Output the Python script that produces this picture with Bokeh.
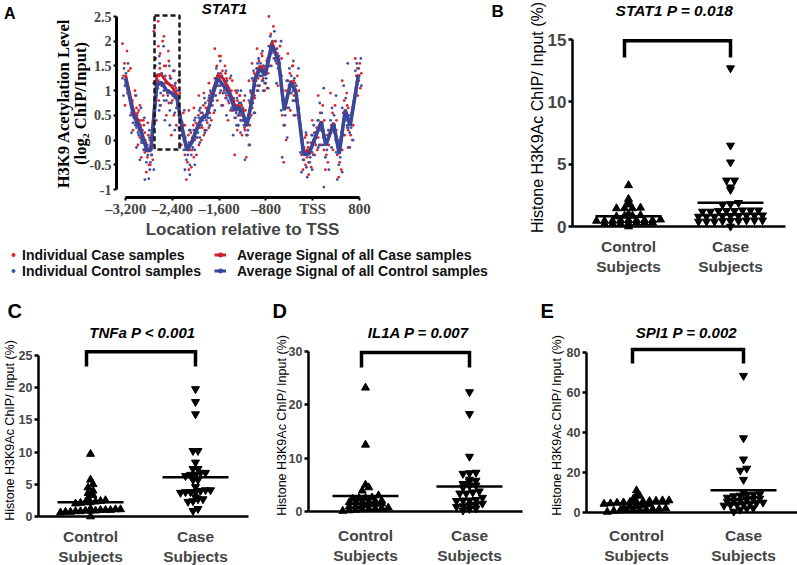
import math
from bokeh.plotting import figure
from bokeh.layouts import column, row
from bokeh.models import Range1d, FixedTicker, Label, Legend, LegendItem
from bokeh.embed import file_html
from bokeh.resources import INLINE

SANS = "Liberation Sans"
SERIF = "Liberation Serif"
RED = "#d8262c"
BLUE = "#3b50a6"
RED_LINE = "#cc1e2c"
BLUE_LINE = "#34489e"
NAN = float("nan")

# ---------------- Panel A data (STAT1 promoter tiling) ----------------
a_positions = [-3200, -3063, -2978, -2921, -2835, -2767, -2664, -2590, -2493, -2408,
               -2322, -2237, -2151, -2066, -1980, -1895, -1810, -1724, -1622, -1525,
               -1439, -1325, -1268, -1200, -1125, -1040, -985, -900, -812, -698,
               -584, -487, -373, -287, -157, -60, 43, 146, 225, 356,
               453, 556, 641, 780]
a_control_avg = [1.25, 0.50, 0.30, 0.12, -0.21, -0.21, 1.10, 1.17, 1.00, 0.95,
                 0.85, 0.26, -0.21, -0.05, 0.22, 0.45, 0.50, 0.85, 1.25, 1.10,
                 0.97, 0.60, 0.66, 0.55, 0.28, 0.80, 1.24, 1.44, 1.31, 1.91,
                 1.61, 0.60, 1.17, 0.97, -0.28, -0.28, 0.06, 0.36, -0.11, 0.33,
                 -0.28, 0.60, 0.29, 1.30]
a_case_avg = [1.32, 0.58, 0.38, 0.15, -0.18, -0.20, 1.31, 1.33, 1.17, 1.08,
              0.92, 0.30, -0.20, -0.02, 0.25, 0.45, 0.52, 0.90, 1.32, 1.24,
              1.04, 0.68, 0.70, 0.58, 0.30, 0.82, 1.26, 1.50, 1.35, 1.98,
              1.63, 0.62, 1.20, 1.00, -0.25, -0.22, 0.03, 0.38, -0.10, 0.35,
              -0.25, 0.62, 0.30, 1.33]
a_case_dots = [
    [1.95, 1.8, 1.55, 1.4, 1.3, 1.15, 0.95, 0.7],
    [1.45, 1.0, 0.8, 0.65, 0.55, 0.45, 0.35, 0.2],
    [0.9, 0.7, 0.55, 0.4, 0.3, 0.2, 0.05, -0.1],
    [0.6, 0.4, 0.25, 0.15, 0.05, -0.05, -0.2, -0.35],
    [0.3, 0.1, -0.05, -0.15, -0.25, -0.35, -0.5, -0.65],
    [0.35, 0.15, 0.0, -0.1, -0.2, -0.3, -0.4, -0.5],
    [2.2, 1.9, 1.65, 1.45, 1.3, 1.1, 0.8, 0.4],
    [2.4, 2.0, 1.75, 1.5, 1.3, 1.1, 0.9, 0.7],
    [2.1, 1.8, 1.5, 1.3, 1.15, 0.95, 0.75, 0.5],
    [1.6, 1.4, 1.25, 1.1, 0.95, 0.8, 0.5, 0.1],
    [1.4, 1.2, 1.05, 0.95, 0.85, 0.7, 0.5, 0.3],
    [0.7, 0.55, 0.4, 0.3, 0.2, 0.1, 0.0, -0.1],
    [0.3, 0.1, -0.05, -0.2, -0.3, -0.45, -0.6, -0.8],
    [0.6, 0.3, 0.15, 0.0, -0.1, -0.2, -0.35, -0.55],
    [0.65, 0.5, 0.35, 0.25, 0.15, 0.05, -0.1, -0.3],
    [0.9, 0.7, 0.55, 0.45, 0.35, 0.25, 0.1, 0.0],
    [0.95, 0.8, 0.65, 0.55, 0.45, 0.35, 0.25, 0.2],
    [1.15, 1.05, 0.95, 0.9, 0.8, 0.7, 0.55, 0.4],
    [1.85, 1.7, 1.5, 1.35, 1.25, 1.1, 0.95, 0.8],
    [1.7, 1.5, 1.4, 1.25, 1.15, 1.0, 0.85, 0.7],
    [1.35, 1.25, 1.1, 1.0, 0.9, 0.75, 0.6, 0.4],
    [1.2, 0.95, 0.8, 0.7, 0.6, 0.45, 0.2, -0.3],
    [1.0, 0.9, 0.8, 0.7, 0.6, 0.5, 0.4, 0.3],
    [0.9, 0.8, 0.7, 0.6, 0.5, 0.4, 0.25, 0.1],
    [0.6, 0.5, 0.4, 0.3, 0.2, 0.1, -0.1, -0.35],
    [1.2, 1.05, 0.95, 0.85, 0.75, 0.65, 0.55, 0.5],
    [1.55, 1.45, 1.35, 1.25, 1.2, 1.1, 1.0, 0.9],
    [1.85, 1.75, 1.6, 1.5, 1.4, 1.3, 1.2, 1.1],
    [1.7, 1.6, 1.45, 1.35, 1.25, 1.15, 1.05, 1.0],
    [2.5, 2.3, 2.15, 2.0, 1.9, 1.8, 1.65, 1.5],
    [2.0, 1.9, 1.75, 1.65, 1.55, 1.45, 1.3, 1.1],
    [1.3, 1.0, 0.8, 0.65, 0.5, 0.3, 0.0, -0.45],
    [1.75, 1.5, 1.35, 1.2, 1.1, 0.95, 0.8, 0.6],
    [1.5, 1.3, 1.15, 1.0, 0.9, 0.8, 0.65, 0.5],
    [0.2, 0.05, -0.1, -0.2, -0.3, -0.4, -0.5, -0.6],
    [0.1, -0.05, -0.15, -0.25, -0.35, -0.45, -0.55, -0.7],
    [0.4, 0.25, 0.15, 0.05, 0.0, -0.1, -0.2, -0.3],
    [0.9, 0.7, 0.55, 0.4, 0.3, 0.2, 0.05, -0.1],
    [0.2, 0.1, 0.0, -0.1, -0.2, -0.3, -0.45, -0.6],
    [0.95, 0.7, 0.55, 0.4, 0.3, 0.15, 0.0, -0.2],
    [0.2, 0.05, -0.1, -0.2, -0.3, -0.45, -0.6, -0.75],
    [1.2, 0.95, 0.8, 0.65, 0.55, 0.4, 0.25, 0.1],
    [0.7, 0.55, 0.4, 0.3, 0.2, 0.1, 0.0, -0.15],
    [1.65, 1.55, 1.45, 1.35, 1.3, 1.2, 1.05, 0.9],
]
a_control_dots = [
    [1.55, 1.45, 1.35, 1.25, 1.2, 1.1, 1.0, 0.9],
    [0.9, 0.75, 0.6, 0.5, 0.45, 0.35, 0.25, 0.15],
    [0.65, 0.5, 0.4, 0.3, 0.25, 0.15, 0.0, -0.15],
    [0.45, 0.3, 0.2, 0.1, 0.05, -0.05, -0.2, -0.4],
    [0.2, 0.0, -0.1, -0.2, -0.3, -0.45, -0.6, -0.8],
    [0.25, 0.05, -0.1, -0.2, -0.3, -0.45, -0.6, -0.78],
    [1.7, 1.5, 1.3, 1.15, 1.05, 0.9, 0.7, 0.5],
    [1.9, 1.55, 1.35, 1.2, 1.1, 0.95, 0.8, 0.6],
    [1.5, 1.3, 1.15, 1.0, 0.9, 0.8, 0.6, 0.4],
    [1.4, 1.25, 1.1, 1.0, 0.9, 0.75, 0.55, 0.3],
    [1.3, 1.15, 1.0, 0.9, 0.8, 0.65, 0.45, 0.2],
    [0.6, 0.45, 0.35, 0.25, 0.2, 0.1, 0.0, -0.15],
    [0.2, 0.05, -0.1, -0.2, -0.3, -0.4, -0.5, -0.6],
    [0.4, 0.2, 0.05, -0.05, -0.15, -0.3, -0.5, -0.7],
    [0.6, 0.45, 0.3, 0.2, 0.15, 0.05, -0.05, -0.2],
    [0.85, 0.65, 0.55, 0.45, 0.4, 0.3, 0.15, 0.05],
    [0.9, 0.75, 0.6, 0.5, 0.45, 0.4, 0.3, 0.2],
    [1.1, 1.0, 0.95, 0.85, 0.8, 0.7, 0.6, 0.45],
    [1.6, 1.45, 1.35, 1.25, 1.2, 1.1, 1.0, 0.9],
    [1.4, 1.3, 1.2, 1.1, 1.05, 0.95, 0.85, 0.7],
    [1.3, 1.2, 1.05, 0.95, 0.9, 0.8, 0.65, 0.5],
    [1.0, 0.85, 0.7, 0.6, 0.55, 0.45, 0.3, 0.1],
    [1.0, 0.85, 0.75, 0.65, 0.6, 0.5, 0.4, 0.3],
    [0.9, 0.75, 0.65, 0.55, 0.5, 0.4, 0.3, 0.15],
    [0.6, 0.45, 0.35, 0.3, 0.2, 0.1, -0.1, -0.4],
    [1.15, 1.0, 0.9, 0.8, 0.75, 0.65, 0.55, 0.45],
    [1.55, 1.4, 1.3, 1.25, 1.2, 1.1, 1.0, 0.9],
    [1.8, 1.65, 1.55, 1.45, 1.4, 1.3, 1.2, 1.1],
    [1.65, 1.5, 1.4, 1.3, 1.25, 1.15, 1.05, 1.0],
    [2.2, 2.1, 2.0, 1.9, 1.85, 1.75, 1.65, 1.5],
    [2.0, 1.85, 1.7, 1.6, 1.55, 1.45, 1.3, 1.15],
    [1.2, 0.95, 0.75, 0.6, 0.5, 0.3, 0.05, -0.35],
    [1.6, 1.45, 1.3, 1.2, 1.1, 0.95, 0.8, 0.65],
    [1.45, 1.25, 1.1, 1.0, 0.9, 0.8, 0.65, 0.5],
    [0.15, 0.0, -0.15, -0.25, -0.3, -0.4, -0.55, -0.65],
    [0.1, -0.05, -0.2, -0.3, -0.35, -0.45, -0.6, -0.75],
    [0.4, 0.3, 0.15, 0.1, 0.05, -0.05, -0.15, -0.3],
    [1.05, 0.75, 0.55, 0.4, 0.35, 0.2, 0.05, -0.1],
    [0.2, 0.05, -0.05, -0.1, -0.2, -0.35, -0.6, -0.95],
    [0.9, 0.65, 0.5, 0.4, 0.3, 0.2, 0.05, -0.15],
    [0.15, 0.0, -0.15, -0.25, -0.35, -0.5, -0.65, -0.8],
    [1.55, 1.1, 0.85, 0.65, 0.55, 0.4, 0.25, 0.1],
    [0.65, 0.5, 0.4, 0.3, 0.25, 0.15, 0.0, -0.15],
    [1.65, 1.55, 1.45, 1.4, 1.3, 1.2, 1.1, 0.95],
]
a_box_x = [-2704, -2277]
a_box_y = [-0.19, 2.52]
a_xticks = [-3200, -2400, -1600, -800, 0, 800]
a_xtick_labels = ["\u20133,200", "\u20132,400", "\u20131,600", "\u2013800", "TSS", "800"]
a_yticks = [-1, -0.5, 0, 0.5, 1, 1.5, 2, 2.5]
a_ytick_labels = ["-1", "-0.5", "0", "0.5", "1", "1.5", "2", "2.5"]

# ---------------- Panels B-E data ----------------
groups = ["Control\nSubjects", "Case\nSubjects"]

stat1_control = [3.3, 2.2, 2.0, 1.75, 1.5, 1.45, 1.45, 1.45, 1.0, 0.9, 0.85, 0.85, 0.8, 0.55, 0.5,
                 0.5, 0.5, 0.5, 0.5, 0.45, 0.45, 0.45, 0.3, 0.3, 0.3, 0.25, 0.25, 0.2, 0.2, 0.0]
stat1_case = [12.7, 6.5, 5.15, 3.7, 3.7, 3.15, 2.95, 1.9, 1.8, 1.75,
              1.3, 1.3, 1.3, 1.25, 1.25, 1.25, 1.2, 1.2,
              0.9, 0.9, 0.9, 0.85, 0.85, 0.85, 0.8, 0.8, 0.8,
              0.5, 0.5, 0.5, 0.45, 0.45, 0.45, 0.4, 0.4, 0.4, 0.0]
stat1_means = [0.83, 1.9]
stat1_bracket = [13.55, 14.9]
stat1_yticks = [0, 5, 10, 15]

tnfa_control = [9.7, 5.7, 5.0, 4.5, 4.0, 3.6, 3.3, 2.8, 2.5, 2.4, 2.3, 2.2, 2.2, 2.1, 2.0,
                1.2, 1.1, 1.1, 1.0, 1.0, 1.0, 0.9, 0.9, 0.9, 0.8, 0.8, 0.7, 0.7, 0.6, 0.0]
tnfa_case = [19.8, 17.8, 15.9, 10.2, 10.2, 8.4, 7.4, 7.4, 6.8, 6.5, 6.3, 6.5, 6.8, 5.7, 5.7,
             4.6, 4.0, 3.8, 3.8, 3.7, 3.8, 4.1, 4.1, 2.7, 2.4, 2.3, 2.7, 3.0, 0.9, 1.2]
tnfa_means = [2.2, 6.1]
tnfa_bracket = [23.3, 25.6]
tnfa_yticks = [0, 5, 10, 15, 20, 25]

il1a_control = [23.2, 12.5, 5.0, 4.5, 3.9, 3.0, 2.6, 2.5, 2.5, 2.4, 2.0, 1.9, 1.8, 1.8, 1.8,
                1.7, 1.5, 1.4, 1.3, 1.2, 1.0, 0.9, 0.7, 0.6, 0.5, 0.5, 0.4, 0.3, 0.2, 0.1]
il1a_case = [22.4, 18.3, 10.3, 7.3, 7.2, 7.1, 6.0, 5.8, 5.6, 5.2, 4.9, 4.8, 4.5, 3.8, 3.6,
             3.4, 3.4, 2.6, 2.2, 2.1, 2.1, 2.0, 1.5, 1.3, 1.2, 1.0, 0.9, 0.6, 0.5, 0.2]
il1a_means = [2.9, 4.7]
il1a_bracket = [27.0, 29.8]
il1a_yticks = [0, 10, 20, 30]

spi1_control = [11.0, 8.6, 8.3, 6.8, 6.0, 6.0, 5.8, 5.7, 5.5, 5.3, 5.2, 5.0, 4.8, 4.5, 4.3,
                4.0, 3.5, 3.2, 3.0, 2.5, 2.0, 1.8, 1.6, 1.5, 1.4, 1.3, 1.2, 1.0, 0.8, 0.3]
spi1_case = [68.4, 37.2, 26.6, 22.0, 21.0, 16.4, 10.0, 9.2, 9.0, 8.8, 8.5, 8.2, 7.5, 7.0, 6.8,
             6.5, 6.0, 5.8, 5.5, 5.0, 4.8, 4.5, 4.2, 4.0, 3.8, 3.5, 2.2, 2.0, 1.5, 0.5]
spi1_means = [4.5, 11.1]
spi1_bracket = [74.5, 81.5]
spi1_yticks = [0, 20, 40, 60, 80]


# ---------------- helpers ----------------
def lin(cal):
    (p0, v0), (p1, v1) = cal
    s = (v1 - v0) / (p1 - p0)
    return (lambda px: v0 + (px - p0) * s), abs(p1 - p0) / abs(v1 - v0)


def make_fig(box, xcal, ycal):
    """Figure whose plotting frame fills the whole box; axes are drawn at fixed locations."""
    bx, by, bw, bh = box
    fx, kx = lin(xcal)
    fy, ky = lin(ycal)
    p = figure(width=bw, height=bh,
               x_range=Range1d(fx(bx), fx(bx + bw)), y_range=Range1d(fy(by + bh), fy(by)),
               min_border_left=0, min_border_right=0, min_border_top=0, min_border_bottom=0,
               output_backend="svg", toolbar_location=None)
    p.outline_line_color = None
    p.xgrid.visible = False
    p.ygrid.visible = False
    p.background_fill_color = "white"
    p.border_fill_color = "white"
    return p, fx, fy, kx, ky


def add_label(p, fx, fy, px, py, text, size, style="bold", font=SANS, align="center", angle=0.0):
    p.add_layout(Label(x=fx(px), y=fy(py), text=text, text_font=font,
                       text_font_size=f"{size}px", text_font_style=style,
                       text_align=align, text_baseline="middle", angle=angle,
                       text_color="black"))


def row_layout(vals, center, kx, ky, row_h, step):
    """Prism-like scatter: points of similar value share a row, spread around the centre."""
    order = sorted(range(len(vals)), key=lambda i: vals[i])
    out = [center] * len(vals)
    rows, cur, start = [], [], None
    for i in order:
        ypx = vals[i] * ky
        if cur and ypx - start > row_h:
            rows.append(cur)
            cur = []
        if not cur:
            start = ypx
        cur.append(i)
    rows.append(cur)
    for r in rows:
        n = len(r)
        for k, i in enumerate(r):
            out[i] = center + (k - (n - 1) / 2) * step / kx
    return out


# ---------------- Panel A ----------------
pA, fxA, fyA, kxA, kyA = make_fig((0, 0, 505, 282), ((125, -3200), (359, 800)), ((16, 2.5), (189, -1)))
jit_case = [-3.0, 1.5, -1.0, 3.0, -2.0, 0.5, 2.0, -0.5]
jit_ctrl = [2.5, -1.5, 0.5, -3.0, 1.0, -0.5, 3.0, -2.0]
for dots, col, jit in ((a_case_dots, RED, jit_case), (a_control_dots, BLUE, jit_ctrl)):
    xs, ys = [], []
    for pos, vals in zip(a_positions, dots):
        for j, v in enumerate(vals):
            xs.append(pos + jit[j % len(jit)] / kxA)
            ys.append(v)
    pA.scatter(xs, ys, size=2.8, color=col, line_color=None)

pA.line(a_positions, a_case_avg, color=RED_LINE, line_width=3)
pA.line(a_positions, a_control_avg, color=BLUE_LINE, line_width=3.5)
pA.quad(left=[a_box_x[0]], right=[a_box_x[1]], bottom=[a_box_y[0]], top=[a_box_y[1]],
        fill_color=None, line_color="#1a1a1a", line_width=2.5, line_dash="5 3")

xa = pA.xaxis[0]
xa.fixed_location = fyA(197)
xa.ticker = FixedTicker(ticks=a_xticks)
xa.major_label_overrides = dict(zip(a_xticks, a_xtick_labels))
xa.bounds = (a_xticks[0], a_xticks[-1])
xa.axis_line_width = 3
xa.major_tick_line_width = 2
xa.major_tick_in = 0
xa.major_tick_out = 3
xa.minor_tick_line_color = None
xa.major_label_text_font = SERIF
xa.major_label_text_font_size = "15px"
xa.major_label_text_font_style = "bold"
xa.major_label_standoff = 0
xa.axis_label = "Location relative to TSS"
xa.axis_label_text_font = SANS
xa.axis_label_text_font_size = "17px"
xa.axis_label_text_font_style = "bold"
xa.axis_label_standoff = 0

ya = pA.yaxis[0]
ya.fixed_location = fxA(116)
ya.ticker = FixedTicker(ticks=a_yticks)
ya.major_label_overrides = dict(zip(a_yticks, a_ytick_labels))
ya.bounds = (a_yticks[0], a_yticks[-1])
ya.axis_line_width = 3
ya.major_tick_line_width = 2
ya.major_tick_in = 0
ya.major_tick_out = 3
ya.minor_tick_line_color = None
ya.major_label_text_font = SERIF
ya.major_label_text_font_size = "14px"
ya.major_label_text_font_style = "bold"
ya.major_label_standoff = 2

add_label(pA, fxA, fyA, 3.5, 13, "A", 16, align="left")
add_label(pA, fxA, fyA, 224, 8, "STAT1", 15, style="bold italic")
add_label(pA, fxA, fyA, 63, 103, "H3K9 Acetylation Level", 16.5, font=SERIF, angle=math.pi / 2)
add_label(pA, fxA, fyA, 80, 103, "(log\u2082 ChIP/Input)", 16.5, font=SERIF, angle=math.pi / 2)
# letter of panel B sits left of B's own box, over the tail of A's legend column
add_label(pA, fxA, fyA, 491, 11, "B", 17, align="left")

# legend proxies: a single NaN point, so nothing shows in the plot, only in the legend
r_case_dot = pA.scatter(x=[NAN], y=[NAN], size=5, color=RED, line_color=None)
r_ctrl_dot = pA.scatter(x=[NAN], y=[NAN], size=5, color=BLUE, line_color=None)
r_case_line = pA.line(x=[NAN, NAN], y=[NAN, NAN], color=RED_LINE, line_width=3)
r_ctrl_line = pA.line(x=[NAN, NAN], y=[NAN, NAN], color=BLUE_LINE, line_width=3)
r_case_mid = pA.scatter(x=[NAN], y=[NAN], size=4, color=RED_LINE, line_color=None)
r_ctrl_mid = pA.scatter(x=[NAN], y=[NAN], size=4, color=BLUE_LINE, line_color=None)


def legend(items, x, y, gw, standoff):
    lg = Legend(items=items, location=(x, y), orientation="vertical",
                glyph_width=gw, glyph_height=15, label_height=15, label_standoff=standoff,
                spacing=0, padding=0, margin=0, border_line_color=None,
                background_fill_alpha=0, label_text_font=SANS, label_text_font_size="14px",
                label_text_font_style="bold", label_text_color="#111111")
    pA.add_layout(lg)


legend([LegendItem(label="Individual Case samples", renderers=[r_case_dot]),
        LegendItem(label="Individual Control samples", renderers=[r_ctrl_dot])],
       8, 282 - 278.5, 10, 4)
legend([LegendItem(label="Average Signal of all Case samples", renderers=[r_case_line, r_case_mid]),
        LegendItem(label="Average Signal of all Control samples", renderers=[r_ctrl_line, r_ctrl_mid])],
       214, 282 - 278.5, 12, 11)


# ---------------- Panels B-E ----------------
def scatter_panel(box, xcal, ycal, axis_x, axis_end, yticks, ctrl, case, means, bracket,
                  letter, letter_xy, letter_size, title, title_xy, title_size,
                  ytitle_xy, ytitle_size, tick_size, cat_standoff, row_h, step):
    p, fx, fy, kx, ky = make_fig(box, xcal, ycal)
    cx = row_layout(ctrl, 1, kx, ky, row_h, step)
    sx = row_layout(case, 2, kx, ky, row_h, step)
    p.scatter(cx, ctrl, marker="triangle", size=8, color="black")
    p.scatter(sx, case, marker="inverted_triangle", size=8, color="black")
    hw = 33 / kx
    p.segment(x0=[1 - hw, 2 - hw], x1=[1 + hw, 2 + hw], y0=means, y1=means,
              line_color="black", line_width=2.5)
    lx = 1 - 4 / kx
    rx = 2
    p.line([lx, lx, rx, rx], [bracket[0], bracket[1], bracket[1], bracket[0]],
           line_color="black", line_width=3.5, line_join="miter")

    ya = p.yaxis[0]
    ya.fixed_location = fx(axis_x)
    ya.ticker = FixedTicker(ticks=yticks)
    ya.bounds = (yticks[0], yticks[-1])
    ya.axis_line_width = 2.5
    ya.major_tick_line_width = 2.5
    ya.major_tick_in = 0
    ya.major_tick_out = 4
    ya.minor_tick_line_color = None
    ya.major_label_text_font = SANS
    ya.major_label_text_font_size = f"{tick_size}px"
    ya.major_label_text_font_style = "bold"
    ya.major_label_standoff = 2

    xa = p.xaxis[0]
    xa.fixed_location = 0
    xa.bounds = (fx(axis_x), fx(axis_end))
    xa.ticker = FixedTicker(ticks=[1, 2])
    xa.major_label_overrides = {1: groups[0], 2: groups[1]}
    xa.axis_line_width = 2.5
    xa.major_tick_line_color = None
    xa.minor_tick_line_color = None
    xa.major_label_text_font = SANS
    xa.major_label_text_font_size = "15.5px"
    xa.major_label_text_font_style = "bold"
    xa.major_label_standoff = cat_standoff

    if letter:
        add_label(p, fx, fy, letter_xy[0], letter_xy[1], letter, letter_size, align="left")
    add_label(p, fx, fy, title_xy[0], title_xy[1], title, title_size, style="bold italic")
    add_label(p, fx, fy, ytitle_xy[0], ytitle_xy[1], "Histone H3K9Ac ChIP/ Input (%)",
              ytitle_size, style="normal", angle=math.pi / 2)
    return p


pB = scatter_panel((505, 0, 292, 282), ((628, 1), (730, 2)), ((226, 0), (39, 15)), 572, 785,
                   stat1_yticks, stat1_control, stat1_case, stat1_means, stat1_bracket,
                   None, None, 17, "STAT1 P = 0.018", (674, 10), 15.5, (537, 117), 16, 17, 5,
                   2.0, 8.0)
pC = scatter_panel((0, 282, 262, 283), ((90, 1), (195, 2)), ((516, 0), (355, 25)), 38, 248,
                   tnfa_yticks, tnfa_control, tnfa_case, tnfa_means, tnfa_bracket,
                   "C", (7, 310), 20, "TNFa P < 0.001", (142, 332), 15, (9, 430), 12.5, 12.5, 5,
                   3.5, 5.0)
pD = scatter_panel((262, 282, 263, 283), ((365, 1), (469, 2)), ((511, 0), (351, 30)), 308, 522,
                   il1a_yticks, il1a_control, il1a_case, il1a_means, il1a_bracket,
                   "D", (272, 310), 20, "IL1A P = 0.007", (418, 332), 15, (281, 425), 12.5, 12.5, 9,
                   3.5, 6.5)
pE = scatter_panel((525, 282, 272, 283), ((636, 1), (743, 2)), ((512, 0), (352, 80)), 586, 797,
                   spi1_yticks, spi1_control, spi1_case, spi1_means, spi1_bracket,
                   "E", (540, 310), 20, "SPI1 P = 0.002", (686, 332), 15, (556, 425), 12.5, 12.5, 8,
                   3.5, 6.5)

layout = column(row(pA, pB, spacing=0), row(pC, pD, pE, spacing=0), spacing=0)
open("out.html", "w").write(file_html(layout, INLINE, title="H3K9 acetylation"))
